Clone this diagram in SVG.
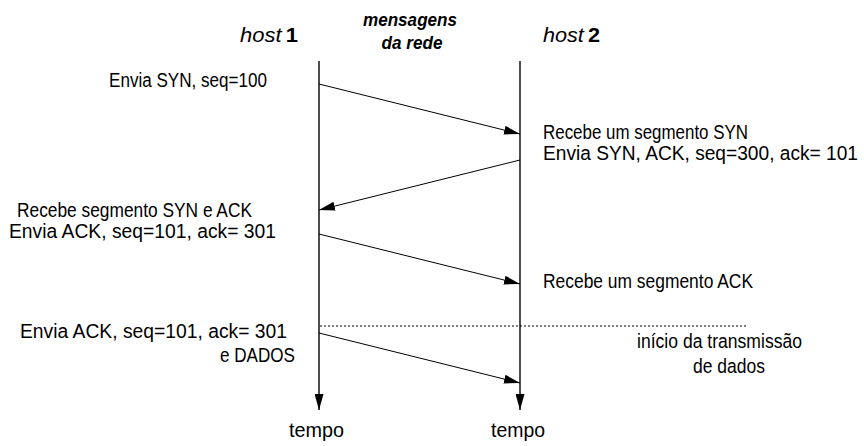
<svg xmlns="http://www.w3.org/2000/svg" width="864" height="446" viewBox="0 0 864 446">
  <style>
    .lbl { font-family: "Liberation Sans", Arial, sans-serif; font-size: 19.5px; fill: #000; }
    .host { font-family: "Liberation Sans", Arial, sans-serif; font-size: 21px; font-style: italic; fill: #000; }
    .net { font-family: "Liberation Sans", Arial, sans-serif; font-size: 17.5px; font-style: italic; font-weight: bold; fill: #000; }
    .life { stroke: #000; stroke-width: 1.4; fill: none; }
    .msg { stroke: #000; stroke-width: 1; fill: none; }
    .dots { stroke: #000; stroke-width: 1; stroke-dasharray: 2 2; fill: none; }
  </style>
  <defs>
    <marker id="head" viewBox="0 0 16 9" refX="16" refY="4.5" markerWidth="16" markerHeight="9" markerUnits="userSpaceOnUse" orient="auto">
      <path d="M0,0 L16,4.5 L0,9 z" fill="#000"/>
    </marker>
  </defs>
  <rect width="864" height="446" fill="#fff"/>

  <!-- column headers and time lines -->
  <g id="host1">
    <text class="host" x="240" y="42" textLength="58" lengthAdjust="spacingAndGlyphs">host<tspan font-weight="bold" font-style="normal" dx="4">1</tspan></text>
    <path class="life" d="M319,61 V410" marker-end="url(#head)"/>
    <text class="lbl" x="289" y="437" textLength="55" lengthAdjust="spacingAndGlyphs">tempo</text>
  </g>
  <g id="network">
    <text class="net" x="410" y="26" text-anchor="middle" textLength="94" lengthAdjust="spacingAndGlyphs">mensagens</text>
    <text class="net" x="412" y="49" text-anchor="middle" textLength="61" lengthAdjust="spacingAndGlyphs">da rede</text>
  </g>
  <g id="host2">
    <text class="host" x="543" y="42" textLength="57" lengthAdjust="spacingAndGlyphs">host<tspan font-weight="bold" font-style="normal" dx="4">2</tspan></text>
    <path class="life" d="M520,61 V410" marker-end="url(#head)"/>
    <text class="lbl" x="491" y="437" textLength="54" lengthAdjust="spacingAndGlyphs">tempo</text>
  </g>

  <!-- message arrows between the two hosts -->
  <g id="connectors">
    <line class="msg" x1="319" y1="84" x2="520" y2="134" marker-end="url(#head)"/>
    <line class="msg" x1="520" y1="160" x2="319" y2="210" marker-end="url(#head)"/>
    <line class="msg" x1="319" y1="234" x2="520" y2="284" marker-end="url(#head)"/>
    <line class="msg" x1="319" y1="333" x2="520" y2="383" marker-end="url(#head)"/>
    <line class="dots" x1="320" y1="326" x2="748" y2="326"/>
  </g>

  <!-- event descriptions -->
  <g id="syn-send">
    <text class="lbl" x="109" y="87" textLength="158" lengthAdjust="spacingAndGlyphs">Envia SYN, seq=100</text>
  </g>
  <g id="syn-recv">
    <text class="lbl" x="543" y="139" textLength="205" lengthAdjust="spacingAndGlyphs">Recebe um segmento SYN</text>
    <text class="lbl" x="543" y="160" textLength="315" lengthAdjust="spacingAndGlyphs">Envia SYN, ACK, seq=300, ack= 101</text>
  </g>
  <g id="synack-recv">
    <text class="lbl" x="17" y="217" textLength="235" lengthAdjust="spacingAndGlyphs">Recebe segmento SYN e ACK</text>
    <text class="lbl" x="9" y="238" textLength="267" lengthAdjust="spacingAndGlyphs">Envia ACK, seq=101, ack= 301</text>
  </g>
  <g id="ack-recv">
    <text class="lbl" x="543" y="288" textLength="210" lengthAdjust="spacingAndGlyphs">Recebe um segmento ACK</text>
  </g>
  <g id="data-send">
    <text class="lbl" x="20" y="338" textLength="267" lengthAdjust="spacingAndGlyphs">Envia ACK, seq=101, ack= 301</text>
    <text class="lbl" x="220" y="362" textLength="75" lengthAdjust="spacingAndGlyphs">e DADOS</text>
  </g>
  <g id="data-start">
    <text class="lbl" x="637" y="348" textLength="165" lengthAdjust="spacingAndGlyphs">início da transmissão</text>
    <text class="lbl" x="693" y="373" textLength="72" lengthAdjust="spacingAndGlyphs">de dados</text>
  </g>
</svg>
